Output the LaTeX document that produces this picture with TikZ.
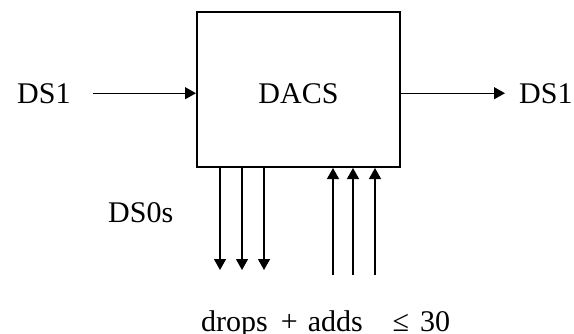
\documentclass[tikz,border=0pt]{standalone}
\usepackage{fontspec}
\setmainfont{Liberation Serif}
\usetikzlibrary{arrows.meta}

\begin{document}
\begin{tikzpicture}[x=1pt,y=-1pt,font=\fontsize{30}{36}\selectfont,
  every node/.style={inner sep=0pt},
  sig/.style={line width=1.3pt,-{Triangle[length=11pt,width=12pt]}}]
  \useasboundingbox (0,0) rectangle (574,333);
  \node[draw,line width=2pt,minimum width=203pt,minimum height=155pt,
    text height=27pt,text depth=0pt] (dacs) at (298.5,89.5) {DACS};
  \node[anchor=base west] (dsin) at (17,103) {DS1};
  \node[anchor=base west] (dsout) at (519,103) {DS1};
  \draw[sig] ([xshift=22pt]dsin.east) -- (dacs.west |- dsin.east);
  \draw[sig] (dacs.east |- dsout.west) -- ([xshift=-14pt]dsout.west);
  \foreach \x [count=\i] in {220,242,264}{
    \coordinate (drop\i) at (\x,270);
    \draw[sig] (dacs.south -| drop\i) -- (drop\i);}
  \foreach \x [count=\i] in {333,353,375}{
    \coordinate (add\i) at (\x,275);
    \draw[sig] (add\i) -- (dacs.south -| add\i);}
  \node[anchor=base west] (ds0) at (108,222) {DS0s};
  \node[anchor=base west] (limit) at (201,331)
    {drops\hspace{13pt}+\hspace{10pt}adds\hspace{30pt}≤\hspace{11pt}30};
\end{tikzpicture}
\end{document}
